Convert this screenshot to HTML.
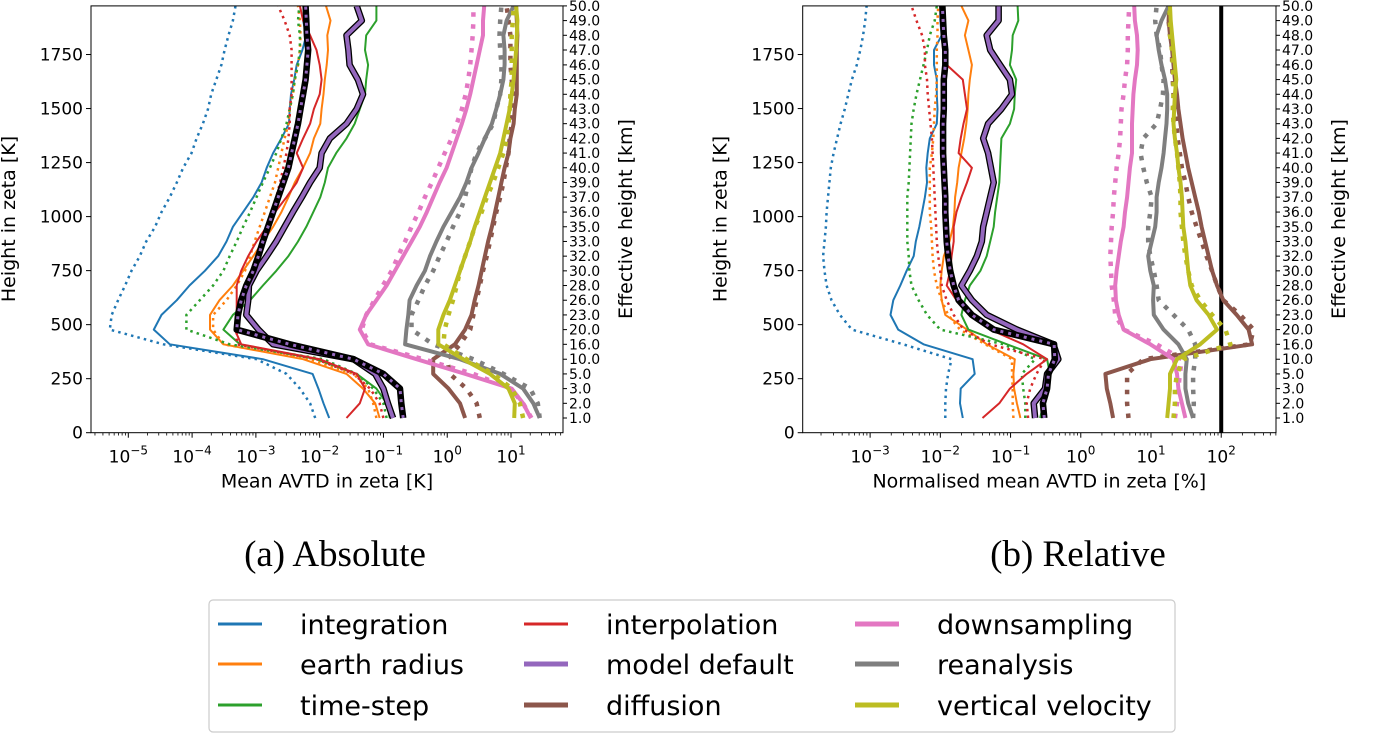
<!DOCTYPE html>
<html><head><meta charset="utf-8"><style>
html,body{margin:0;padding:0;background:#fff;}
svg{display:block;font-family:"DejaVu Sans","Liberation Sans",sans-serif;}
</style></head><body>
<svg id="fig" width="1383" height="735" viewBox="0 0 1383 735">
<rect width="1383" height="735" fill="#fff"/>
<g id="plots"></g>
<text x="335" y="566" font-family="'Liberation Serif',serif" font-size="37" text-anchor="middle">(a) Absolute</text>
<text x="1078" y="566" font-family="'Liberation Serif',serif" font-size="37" text-anchor="middle">(b) Relative</text>
<g>
<rect x="209" y="600" width="966" height="132" rx="4" fill="#fff" stroke="#ccc" stroke-width="1.2"/>
<g id="legend-items" font-size="27"></g>
</g>
</svg>
<script>
// Zeta levels (K) for each sample, bottom to top
const levelsZeta = [68,136,204,272,340,409,477,545,613,681,749,817,885,953,1021,1090,1158,1226,1294,1362,1430,1498,1566,1634,1702,1771,1839,1907,1975];
const kmLabels = ["1.0","2.0","3.0","5.0","10.0","16.0","20.0","23.0","26.0","28.0","30.0","32.0","33.0","35.0","36.0","37.0","39.0","40.0","41.0","42.0","43.0","43.0","44.0","45.0","46.0","47.0","48.0","49.0","50.0"];
const yTicks = [0,250,500,750,1000,1250,1500,1750];
const absDecades = [-5,-4,-3,-2,-1,0,1];
const relDecades = [-3,-2,-1,0,1,2];
const categories = ["integration","earth radius","time-step","interpolation","model default","diffusion","downsampling","reanalysis","vertical velocity"];

// Absolute (log10 of mean AVTD in K)
const absIntegration = [-1.85,-1.94,-2.02,-2.11,-2.89,-4.35,-4.6,-4.48,-4.24,-4.04,-3.80,-3.59,-3.46,-3.36,-3.20,-3.04,-2.91,-2.83,-2.73,-2.60,-2.48,-2.47,-2.45,-2.40,-2.36,-2.27,-2.21,-2.26,-2.23];
const absIntegrationDot = [-2.07,-2.15,-2.31,-2.52,-2.99,-4.45,-5.29,-5.26,-5.16,-5.05,-4.95,-4.82,-4.72,-4.58,-4.48,-4.35,-4.24,-4.14,-4.01,-3.93,-3.83,-3.75,-3.70,-3.62,-3.54,-3.49,-3.43,-3.36,-3.32];
const absEarth = [-1.06,-1.13,-1.32,-1.58,-2.26,-3.51,-3.72,-3.72,-3.57,-3.36,-3.20,-3.04,-2.89,-2.73,-2.60,-2.49,-2.39,-2.26,-2.15,-2.09,-1.99,-1.97,-1.94,-1.92,-1.89,-1.87,-1.88,-1.83,-1.90];
const absEarthDot = [-1.11,-1.16,-1.24,-1.47,-2.15,-3.51,-3.67,-3.67,-3.46,-3.30,-3.17,-3.09,-3.02,-2.94,-2.86,-2.78,-2.70,-2.65,-2.60,-2.55,-2.49,-2.47,-2.42,-2.39,-2.34,-2.31,-2.30,-2.31,-2.34];
const absTime = [-0.90,-0.95,-1.11,-1.42,-2.05,-3.25,-3.51,-3.36,-3.09,-2.89,-2.68,-2.49,-2.34,-2.21,-2.10,-1.99,-1.92,-1.87,-1.74,-1.58,-1.45,-1.37,-1.29,-1.27,-1.24,-1.29,-1.27,-1.11,-1.11];
const absTimeDot = [-0.95,-1.0,-1.16,-1.42,-1.94,-3.41,-4.09,-4.09,-3.88,-3.67,-3.51,-3.41,-3.30,-3.20,-3.09,-2.99,-2.89,-2.78,-2.68,-2.60,-2.52,-2.47,-2.42,-2.39,-2.34,-2.31,-2.31,-2.34,-2.32];
const absInterp = [-1.58,-1.37,-1.29,-1.42,-2.0,-3.23,-3.33,-3.30,-3.30,-3.30,-3.23,-3.12,-2.99,-2.83,-2.70,-2.52,-2.36,-2.26,-2.36,-2.26,-2.15,-2.09,-2.0,-1.97,-2.0,-2.05,-2.15,-2.26,-2.31];
const absInterpDot = [-1.0,-1.06,-1.21,-1.47,-2.05,-3.30,-3.30,-3.25,-3.20,-3.12,-3.04,-2.96,-2.89,-2.81,-2.73,-2.68,-2.62,-2.57,-2.52,-2.49,-2.47,-2.47,-2.44,-2.44,-2.44,-2.44,-2.47,-2.55,-2.65];
const absModel = [-0.85,-0.93,-1.0,-1.13,-1.47,-2.73,-2.96,-3.15,-3.12,-3.11,-2.99,-2.83,-2.68,-2.55,-2.42,-2.28,-2.15,-2.0,-1.97,-1.84,-1.58,-1.42,-1.32,-1.40,-1.53,-1.55,-1.58,-1.34,-1.42];
const absModelDot = [-0.69,-0.72,-0.74,-1.0,-1.47,-2.47,-3.30,-3.28,-3.23,-3.15,-3.04,-2.96,-2.89,-2.81,-2.73,-2.65,-2.57,-2.49,-2.44,-2.39,-2.34,-2.30,-2.26,-2.22,-2.20,-2.18,-2.20,-2.21,-2.22];
const absDiff = [0.28,0.20,0.02,-0.22,-0.22,0.12,0.28,0.38,0.43,0.49,0.54,0.59,0.64,0.70,0.75,0.80,0.85,0.90,0.96,0.99,1.04,1.06,1.09,1.09,1.09,1.09,1.10,1.09,1.08];
const absDiffDot = [0.51,0.46,0.30,0.04,0.0,0.20,0.36,0.41,0.46,0.51,0.56,0.62,0.67,0.72,0.77,0.83,0.88,0.92,0.96,0.98,1.01,1.03,1.03,1.01,0.99,0.99,0.99,0.96,0.93];
const absDown = [1.31,1.19,1.01,0.28,-0.48,-1.24,-1.37,-1.27,-1.11,-0.95,-0.82,-0.69,-0.56,-0.43,-0.32,-0.22,-0.12,-0.01,0.07,0.15,0.23,0.30,0.36,0.41,0.46,0.51,0.56,0.56,0.58];
const absDownDot = [1.32,1.19,0.99,0.41,-0.38,-1.21,-1.34,-1.27,-1.14,-1.01,-0.87,-0.77,-0.66,-0.56,-0.45,-0.35,-0.24,-0.14,-0.04,0.07,0.15,0.23,0.29,0.33,0.36,0.38,0.40,0.41,0.41];
const absRean = [1.45,1.35,1.19,0.83,0.20,-0.66,-0.64,-0.61,-0.59,-0.48,-0.35,-0.27,-0.17,-0.06,0.07,0.20,0.30,0.38,0.49,0.59,0.70,0.77,0.83,0.88,0.90,0.90,0.88,0.93,1.04];
const absReanDot = [1.45,1.42,1.30,0.88,0.41,-0.22,-0.56,-0.56,-0.45,-0.35,-0.22,-0.12,-0.01,0.09,0.20,0.28,0.33,0.38,0.46,0.59,0.72,0.77,0.83,0.85,0.85,0.83,0.82,0.83,0.85];
const absVert = [1.05,1.06,0.96,0.67,0.25,-0.14,-0.14,-0.06,0.04,0.12,0.20,0.28,0.36,0.43,0.51,0.59,0.67,0.75,0.83,0.88,0.93,0.98,1.01,1.04,1.06,1.08,1.09,1.10,1.08];
const absVertDot = [1.19,1.14,1.01,0.72,0.30,-0.06,-0.04,0.02,0.09,0.15,0.20,0.28,0.36,0.43,0.54,0.62,0.72,0.80,0.88,0.93,0.96,0.98,0.99,1.01,1.01,1.01,1.01,1.03,1.04];

// Relative (log10 of normalised mean AVTD in %)
const relIntegration = [-1.68,-1.72,-1.71,-1.51,-1.54,-2.24,-2.60,-2.71,-2.67,-2.57,-2.48,-2.38,-2.35,-2.30,-2.26,-2.22,-2.19,-2.20,-2.18,-2.15,-2.05,-2.04,-2.05,-2.05,-2.09,-2.09,-1.98,-2.0,-2.0];
const relIntegrationDot = [-1.93,-1.93,-1.92,-1.89,-1.84,-2.53,-3.26,-3.43,-3.55,-3.62,-3.65,-3.67,-3.65,-3.63,-3.62,-3.60,-3.58,-3.56,-3.52,-3.47,-3.42,-3.36,-3.31,-3.26,-3.19,-3.14,-3.10,-3.07,-3.05];
const relEarth = [-0.86,-0.91,-0.95,-0.96,-0.94,-1.34,-1.62,-1.93,-1.98,-2.0,-1.98,-1.95,-1.87,-1.82,-1.80,-1.79,-1.76,-1.74,-1.70,-1.66,-1.63,-1.61,-1.60,-1.58,-1.55,-1.60,-1.65,-1.60,-1.70];
const relEarthDot = [-0.96,-0.97,-0.97,-0.98,-0.98,-1.36,-1.72,-1.89,-1.98,-2.05,-2.09,-2.11,-2.12,-2.13,-2.15,-2.15,-2.15,-2.15,-2.12,-2.10,-2.09,-2.08,-2.06,-2.05,-2.05,-2.05,-2.04,-2.04,-2.03];
const relTime = [-0.58,-0.53,-0.48,-0.44,-0.48,-1.05,-1.60,-1.70,-1.65,-1.58,-1.43,-1.34,-1.29,-1.24,-1.22,-1.19,-1.16,-1.15,-1.14,-1.13,-1.01,-0.95,-0.94,-0.92,-1.01,-0.98,-0.97,-0.89,-0.90];
const relTimeDot = [-0.79,-0.79,-0.82,-0.84,-0.65,-1.10,-2.0,-2.19,-2.31,-2.41,-2.44,-2.45,-2.47,-2.47,-2.47,-2.47,-2.45,-2.44,-2.43,-2.42,-2.41,-2.38,-2.34,-2.29,-2.24,-2.19,-2.15,-2.08,-2.05];
const relInterp = [-1.40,-1.16,-1.01,-0.77,-0.48,-0.82,-1.29,-1.58,-1.77,-1.91,-1.86,-1.84,-1.81,-1.81,-1.77,-1.70,-1.62,-1.55,-1.74,-1.71,-1.67,-1.62,-1.65,-1.68,-1.91,-1.96,-1.98,-1.99,-2.0];
const relInterpDot = [-0.75,-0.77,-0.72,-0.63,-0.51,-1.29,-1.67,-1.81,-1.91,-1.98,-2.0,-2.03,-2.05,-2.06,-2.07,-2.08,-2.09,-2.10,-2.11,-2.12,-2.14,-2.16,-2.18,-2.19,-2.22,-2.22,-2.26,-2.34,-2.41];
const relModel = [-0.65,-0.67,-0.51,-0.48,-0.32,-0.39,-0.91,-1.34,-1.55,-1.70,-1.58,-1.48,-1.41,-1.39,-1.34,-1.29,-1.24,-1.28,-1.32,-1.39,-1.32,-1.13,-0.98,-1.01,-1.15,-1.29,-1.34,-1.17,-1.17];
const relModelDot = [-0.52,-0.54,-0.48,-0.46,-0.37,-0.38,-1.24,-1.55,-1.74,-1.81,-1.86,-1.89,-1.91,-1.92,-1.93,-1.93,-1.94,-1.95,-1.96,-1.96,-1.96,-1.95,-1.95,-1.95,-1.93,-1.93,-1.95,-1.96,-1.97];
const relDiff = [0.46,0.42,0.37,0.35,0.99,2.44,2.39,2.22,2.03,1.94,1.87,1.82,1.77,1.72,1.68,1.63,1.58,1.53,1.49,1.45,1.42,1.39,1.37,1.34,1.32,1.30,1.27,1.25,1.26];
const relDiffDot = [0.68,0.66,0.66,0.66,0.89,2.41,2.46,2.27,2.03,1.94,1.87,1.79,1.72,1.65,1.58,1.53,1.49,1.44,1.41,1.38,1.36,1.34,1.32,1.31,1.30,1.30,1.27,1.25,1.23];
const relDown = [1.49,1.44,1.39,1.37,1.32,0.99,0.61,0.54,0.50,0.49,0.51,0.54,0.57,0.61,0.63,0.66,0.68,0.70,0.73,0.73,0.73,0.74,0.75,0.77,0.80,0.81,0.80,0.77,0.76];
const relDownDot = [1.34,1.37,1.39,1.41,1.44,1.08,0.61,0.49,0.47,0.44,0.43,0.42,0.43,0.44,0.46,0.47,0.49,0.51,0.54,0.56,0.57,0.58,0.61,0.63,0.66,0.67,0.67,0.68,0.69];
const relRean = [1.60,1.53,1.49,1.49,1.51,1.39,1.18,1.04,1.03,1.04,0.99,0.96,1.01,1.06,1.08,1.08,1.11,1.15,1.18,1.20,1.22,1.23,1.23,1.20,1.15,1.11,1.08,1.15,1.25];
const relReanDot = [1.60,1.61,1.60,1.60,1.63,1.63,1.53,1.32,1.11,1.08,1.04,0.99,0.96,0.96,0.99,1.01,0.94,0.89,0.85,0.89,1.08,1.13,1.17,1.18,1.15,1.13,1.08,1.06,1.08];
const relVert = [1.23,1.25,1.27,1.27,1.37,1.70,1.94,1.82,1.65,1.56,1.53,1.51,1.49,1.46,1.45,1.44,1.42,1.39,1.37,1.34,1.32,1.33,1.34,1.36,1.34,1.32,1.30,1.28,1.27];
const relVertDot = [1.32,1.34,1.34,1.37,1.46,2.13,2.06,1.87,1.70,1.58,1.53,1.49,1.46,1.44,1.42,1.42,1.41,1.39,1.37,1.34,1.32,1.31,1.32,1.32,1.31,1.30,1.27,1.27,1.26];
const relReference = 2; // log10(100 %)

const NS = "http://www.w3.org/2000/svg";
function mk(tag, attrs, parent){ const e=document.createElementNS(NS,tag); for(const k in attrs) e.setAttribute(k,attrs[k]); if(parent) parent.appendChild(e); return e; }

const Y0 = 432.7, Y_PER = 0.2161;
function yScale(z){ return Y0 - z*Y_PER; }

const colors = {blue:"#1f77b4",orange:"#ff7f0e",green:"#2ca02c",red:"#d62728",purple:"#9467bd",brown:"#8c564b",pink:"#e377c2",grey:"#7f7f7f",olive:"#bcbd22"};

const plots = [
  {key:"abs", left:91, right:563, lmin:-5.585, lmax:1.815, decades:absDecades, xlabel:"Mean AVTD in zeta [K]",
   series:[absIntegration,absIntegrationDot,absEarth,absEarthDot,absTime,absTimeDot,absInterp,absInterpDot,absDiff,absDiffDot,absDown,absDownDot,absRean,absReanDot,absVert,absVertDot,absModel,absModelDot]},
  {key:"rel", left:802.7, right:1276, lmin:-3.96, lmax:2.78, decades:relDecades, xlabel:"Normalised mean AVTD in zeta [%]",
   series:[relIntegration,relIntegrationDot,relEarth,relEarthDot,relTime,relTimeDot,relInterp,relInterpDot,relDiff,relDiffDot,relDown,relDownDot,relRean,relReanDot,relVert,relVertDot,relModel,relModelDot]}
];
const styles = [
  ["integration",colors.blue,2,false],["integration-dotted",colors.blue,2.5,true],
  ["earth-radius",colors.orange,2,false],["earth-radius-dotted",colors.orange,2.5,true],
  ["time-step",colors.green,2,false],["time-step-dotted",colors.green,2.5,true],
  ["interpolation",colors.red,2,false],["interpolation-dotted",colors.red,2.5,true],
  ["diffusion",colors.brown,4,false],["diffusion-dotted",colors.brown,4.5,true],
  ["downsampling",colors.pink,4,false],["downsampling-dotted",colors.pink,4.5,true],
  ["reanalysis",colors.grey,4,false],["reanalysis-dotted",colors.grey,4.5,true],
  ["vertical-velocity",colors.olive,4,false],["vertical-velocity-dotted",colors.olive,4.5,true],
  ["model-default","model",4,false],["model-default-dotted","modeldot",4.5,true]
];

const root = document.getElementById("plots");
plots.forEach(p=>{
  const W = p.right-p.left;
  const xs = v => p.left + (v-p.lmin)/(p.lmax-p.lmin)*W;
  const g = mk("g",{},root);
  
  
  const clipId = "clip-"+p.key;
  const defs = mk("defs",{},g);
  const cp = mk("clipPath",{id:clipId},defs);
  mk("rect",{x:p.left,y:yScale(1975),width:W,height:Y0-yScale(1975)},cp);
  const lines = mk("g",{"clip-path":"url(#"+clipId+")"},g);
  if(p.key==="rel"){
    const ref = mk("line",{x1:xs(relReference),x2:xs(relReference),y1:0,y2:Y0,stroke:"#000","stroke-width":4},lines);
    
    
  }
  p.series.forEach((vals,i)=>{
    const [nm,col,lw,dot] = styles[i];
    const d = vals.map((v,j)=>(j?"L":"M")+xs(v).toFixed(1)+","+yScale(levelsZeta[j]).toFixed(1)).join("");
    const sg = mk("g",{fill:"none","stroke-linejoin":"round"},lines);
    
    
    if(col==="model"){
      mk("path",{d:d,stroke:"#000","stroke-width":lw+2.6},sg);
      mk("path",{d:d,stroke:colors.purple,"stroke-width":lw},sg);
    } else if(col==="modeldot"){
      mk("path",{d:d,stroke:"#000","stroke-width":6.5},sg);
      mk("path",{d:d,stroke:colors.purple,"stroke-width":3,"stroke-dasharray":"3 5"},sg);
    } else {
      const a = {d:d,stroke:col,"stroke-width":lw};
      if(dot) a["stroke-dasharray"] = lw+" "+(lw*1.65).toFixed(2);
      mk("path",a,sg);
    }
  });
  const fr = mk("rect",{x:p.left,y:yScale(1975),width:W,height:Y0-yScale(1975),fill:"none",stroke:"#000","stroke-width":1},g);
  
  
  const xt = mk("g",{},g);
  
  
  for(let k=Math.floor(p.lmin);k<=Math.ceil(p.lmax);k++){
    for(let m=1;m<10;m++){
      const lv = k+Math.log10(m);
      if(lv<p.lmin||lv>p.lmax) continue;
      const x = xs(lv);
      mk("line",{x1:x,x2:x,y1:Y0,y2:Y0+(m===1?5:2.8),stroke:"#000","stroke-width":m===1?1:0.8},xt);
    }
  }
  p.decades.forEach(k=>{
    const t = mk("text",{x:xs(k),y:Y0+30,"font-size":17,"text-anchor":"middle"},xt);
    
    
    t.appendChild(document.createTextNode("10"));
    const s = mk("tspan",{dy:-8,"font-size":12},t);
    s.textContent = (k<0?"\u2212":"")+Math.abs(k);
  });
  const xl = mk("text",{x:(p.left+p.right)/2,y:Y0+55,"font-size":19,"text-anchor":"middle"},xt);
  
  
  xl.textContent = p.xlabel;
  const yt = mk("g",{},g);
  
  
  yTicks.forEach(v=>{
    const y = yScale(v);
    mk("line",{x1:p.left-5,x2:p.left,y1:y,y2:y,stroke:"#000","stroke-width":1},yt);
    const t = mk("text",{x:p.left-8,y:y+6,"font-size":17,"text-anchor":"end"},yt);
    
    
    t.textContent = v;
  });
  const yl = mk("text",{transform:"translate("+(p.left-76)+",219) rotate(-90)","font-size":19,"text-anchor":"middle"},yt);
  
  
  yl.textContent = "Height in zeta [K]";
  const rt = mk("g",{},g);
  
  
  kmLabels.forEach((lab,j)=>{
    const y = yScale(levelsZeta[j]);
    mk("line",{x1:p.right,x2:p.right+4,y1:y,y2:y,stroke:"#000","stroke-width":1},rt);
    const t = mk("text",{x:p.right+6,y:y+5,"font-size":14},rt);
    
    
    t.textContent = lab;
  });
  const rl = mk("text",{transform:"translate("+(p.right+69)+",219) rotate(-90)","font-size":19,"text-anchor":"middle"},rt);
  
  
  rl.textContent = "Effective height [km]";
});

const legendColors = [colors.blue,colors.orange,colors.green,colors.red,colors.purple,colors.brown,colors.pink,colors.grey,colors.olive];
const legendWidths = [3,3,3,3,5,5,5,5,5];
const colX = [218,524,855], rowY = [624,664,705];
const lg = document.getElementById("legend-items");
categories.forEach((c,i)=>{
  const col = Math.floor(i/3), row = i%3;
  const it = mk("g",{},lg);
  
  
  mk("line",{x1:colX[col],x2:colX[col]+44,y1:rowY[row],y2:rowY[row],stroke:legendColors[i],"stroke-width":legendWidths[i]},it);
  const t = mk("text",{x:colX[col]+82,y:rowY[row]+10},it);
  t.textContent = c;
});
</script>
</body></html>
